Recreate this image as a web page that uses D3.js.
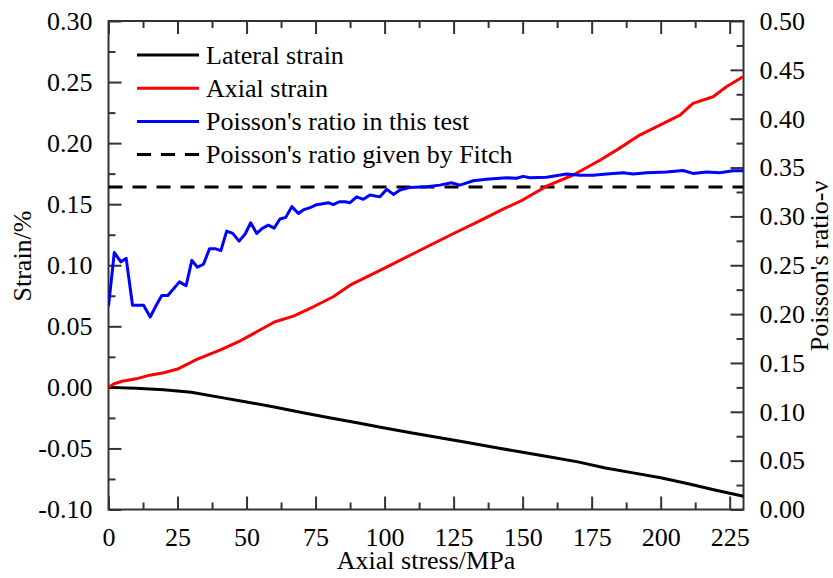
<!DOCTYPE html>
<html>
<head>
<meta charset="utf-8">
<script src="https://cdn.jsdelivr.net/npm/d3@7"></script>
<style>
  html, body { margin: 0; padding: 0; background: #fff; }
</style>
</head>
<body>
<svg id="chart" width="833" height="578" font-family="Liberation Serif, Times New Roman, serif"></svg>
<script>
// Strain curves (left axis, %) against axial stress (MPa)
const axialStress = [0, 2, 5, 10, 15, 20, 25, 32, 41, 47.7, 53.7, 60.3, 67, 74.2, 81.4, 87.5, 100, 110, 117, 125, 135, 142, 150, 158.7, 168.3, 178, 185, 192.4, 199.7, 207, 211.7, 219, 223.8, 229.8];
const axialStrain = [0, 0.003, 0.005, 0.007, 0.010, 0.012, 0.015, 0.0229, 0.0311, 0.0381, 0.0455, 0.0537, 0.0583, 0.066, 0.0742, 0.0837, 0.0977, 0.109, 0.117, 0.126, 0.137, 0.145, 0.1534, 0.1648, 0.1739, 0.186, 0.1957, 0.2066, 0.2148, 0.223, 0.2326, 0.238, 0.2462, 0.2544];

const lateralStress = [0, 10, 20, 30, 40, 50, 60, 70, 80, 90, 100, 110, 120, 130, 140, 150, 160, 170, 180, 190, 200, 210, 220, 230];
const lateralStrain = [0, -0.0008, -0.002, -0.004, -0.008, -0.012, -0.016, -0.0205, -0.0248, -0.029, -0.0333, -0.0373, -0.0413, -0.0452, -0.0492, -0.0532, -0.057, -0.061, -0.066, -0.070, -0.074, -0.0789, -0.0842, -0.0891];

// Poisson's ratio (right axis)
const ratioStress = [0, 2.1, 4.5, 6.4, 8.7, 12.7, 15.1, 17.3, 19.3, 21.5, 25.7, 28.1, 30.2, 32.2, 34.4, 36.6, 38.6, 40.7, 42.8, 45, 47.3, 49.5, 51.5, 53.7, 55.7, 57.9, 60, 62.1, 64.2, 66.4, 68.8, 70.8, 73, 75.4, 77.6, 79.6, 81.4, 83.6, 85.7, 87.5, 89.9, 92.3, 94.7, 98.3, 100.8, 103.2, 105.6, 109.2, 115.2, 120, 124.2, 127.3, 132.1, 136.9, 144.2, 147.8, 150.2, 152.6, 158.7, 165.9, 170.7, 175.5, 180.4, 186.4, 190, 194.9, 202.1, 208.1, 211.7, 216.6, 221.4, 226.2, 230];
const ratioTest = [0.208, 0.263, 0.2535, 0.257, 0.209, 0.209, 0.197, 0.209, 0.219, 0.219, 0.233, 0.229, 0.255, 0.248, 0.251, 0.267, 0.267, 0.265, 0.285, 0.2826, 0.2747, 0.282, 0.2935, 0.2826, 0.2877, 0.291, 0.288, 0.2973, 0.299, 0.310, 0.303, 0.307, 0.309, 0.312, 0.313, 0.314, 0.312, 0.315, 0.315, 0.314, 0.320, 0.3175, 0.322, 0.320, 0.3277, 0.3225, 0.327, 0.3297, 0.3303, 0.332, 0.3344, 0.332, 0.3365, 0.338, 0.3395, 0.339, 0.341, 0.3395, 0.340, 0.3433, 0.342, 0.342, 0.3433, 0.3447, 0.3433, 0.3447, 0.3454, 0.347, 0.344, 0.3454, 0.3447, 0.3467, 0.3467];
const ratioFitch = 0.33;

// Axis ranges and tick values
const xDomain = [0, 230];
const xTicks = [0, 25, 50, 75, 100, 125, 150, 175, 200, 225];
const xMinor = [12.5, 37.5, 62.5, 87.5, 112.5, 137.5, 162.5, 187.5, 212.5];
const leftDomain = [-0.10, 0.30];
const leftTicks = [-0.10, -0.05, 0.00, 0.05, 0.10, 0.15, 0.20, 0.25, 0.30];
const leftMinor = [-0.075, -0.025, 0.025, 0.075, 0.125, 0.175, 0.225, 0.275];
const rightDomain = [0, 0.50];
const rightTicks = [0, 0.05, 0.10, 0.15, 0.20, 0.25, 0.30, 0.35, 0.40, 0.45, 0.50];
const rightMinor = [0.025, 0.075, 0.125, 0.175, 0.225, 0.275, 0.325, 0.375, 0.425, 0.475];

const legendItems = [
  { label: "Lateral strain", color: "#000000", dash: null },
  { label: "Axial strain", color: "#ff0000", dash: null },
  { label: "Poisson's ratio in this test", color: "#0000ff", dash: null },
  { label: "Poisson's ratio given by Fitch", color: "#000000", dash: "14,10" }
];

const plot = { left: 108.5, right: 743.5, top: 21, bottom: 509.5 };
const fontSize = 26;
const serif = "Liberation Serif, Times New Roman, serif";
const axisColor = "#333";

const svg = d3.select("#chart");

const x = d3.scaleLinear().domain(xDomain).range([plot.left, plot.right]);
const yL = d3.scaleLinear().domain(leftDomain).range([plot.bottom, plot.top]);
const yR = d3.scaleLinear().domain(rightDomain).range([plot.bottom, plot.top]);

function styleAxis(g) {
  g.attr("font-family", serif).attr("font-size", fontSize);
  g.select(".domain").remove();
  g.selectAll(".tick line").attr("stroke", axisColor).attr("stroke-width", 2);
  g.selectAll(".tick text").attr("fill", "#000");
}

// Bottom axis
svg.append("g").attr("transform", `translate(0,${plot.bottom})`)
  .call(d3.axisBottom(x).tickValues(xTicks).tickFormat(d3.format("d"))
    .tickSizeInner(-13).tickSizeOuter(0).tickPadding(18))
  .call(styleAxis);
svg.append("g").attr("transform", `translate(0,${plot.bottom})`)
  .call(d3.axisBottom(x).tickValues(xMinor).tickFormat("").tickSizeInner(-7).tickSizeOuter(0))
  .call(styleAxis);

// Top axis (ticks only)
svg.append("g").attr("transform", `translate(0,${plot.top})`)
  .call(d3.axisTop(x).tickValues(xTicks).tickFormat("").tickSizeInner(-13).tickSizeOuter(0))
  .call(styleAxis);
svg.append("g").attr("transform", `translate(0,${plot.top})`)
  .call(d3.axisTop(x).tickValues(xMinor).tickFormat("").tickSizeInner(-7).tickSizeOuter(0))
  .call(styleAxis);

// Left axis: strain
svg.append("g").attr("transform", `translate(${plot.left},0)`)
  .call(d3.axisLeft(yL).tickValues(leftTicks).tickFormat(d => d.toFixed(2))
    .tickSizeInner(-13).tickSizeOuter(0).tickPadding(16))
  .call(styleAxis);
svg.append("g").attr("transform", `translate(${plot.left},0)`)
  .call(d3.axisLeft(yL).tickValues(leftMinor).tickFormat("").tickSizeInner(-7).tickSizeOuter(0))
  .call(styleAxis);

// Right axis: Poisson's ratio
svg.append("g").attr("transform", `translate(${plot.right},0)`)
  .call(d3.axisRight(yR).tickValues(rightTicks).tickFormat(d => d.toFixed(2))
    .tickSizeInner(-13).tickSizeOuter(0).tickPadding(16))
  .call(styleAxis);
svg.append("g").attr("transform", `translate(${plot.right},0)`)
  .call(d3.axisRight(yR).tickValues(rightMinor).tickFormat("").tickSizeInner(-7).tickSizeOuter(0))
  .call(styleAxis);

// Frame
svg.append("rect")
  .attr("x", plot.left).attr("y", plot.top)
  .attr("width", plot.right - plot.left).attr("height", plot.bottom - plot.top)
  .attr("fill", "none").attr("stroke", axisColor).attr("stroke-width", 2);

// Series, clipped to the plot box
svg.append("clipPath").attr("id", "plot-clip")
  .append("rect").attr("x", plot.left).attr("y", plot.top)
  .attr("width", plot.right - plot.left).attr("height", plot.bottom - plot.top);
const g = svg.append("g").attr("clip-path", "url(#plot-clip)");

const lineL = d3.line().x(d => x(d[0])).y(d => yL(d[1]));
const lineR = d3.line().x(d => x(d[0])).y(d => yR(d[1]));

g.append("path")
  .datum(xDomain.map(v => [v, ratioFitch]))
  .attr("d", lineR).attr("fill", "none")
  .attr("stroke", "#000").attr("stroke-width", 3).attr("stroke-dasharray", "14,10");

g.append("path")
  .datum(lateralStress.map((s, i) => [s, lateralStrain[i]]))
  .attr("d", lineL).attr("fill", "none").attr("stroke", "#000")
  .attr("stroke-width", 3).attr("stroke-linejoin", "round");

g.append("path")
  .datum(axialStress.map((s, i) => [s, axialStrain[i]]))
  .attr("d", lineL).attr("fill", "none").attr("stroke", "#ff0000")
  .attr("stroke-width", 3).attr("stroke-linejoin", "round");

g.append("path")
  .datum(ratioStress.map((s, i) => [s, ratioTest[i]]))
  .attr("d", lineR).attr("fill", "none").attr("stroke", "#0000ff")
  .attr("stroke-width", 3).attr("stroke-linejoin", "round");

// Legend
const legend = svg.append("g").attr("font-family", serif).attr("font-size", fontSize);
legendItems.forEach((item, i) => {
  const ly = 55 + i * 33.2;
  legend.append("line")
    .attr("x1", 137).attr("x2", 199).attr("y1", ly).attr("y2", ly)
    .attr("stroke", item.color).attr("stroke-width", 3)
    .attr("stroke-dasharray", item.dash);
  legend.append("text")
    .attr("x", 206).attr("y", ly).attr("dy", "0.34em")
    .text(item.label);
});

// Axis titles
const titles = svg.append("g").attr("font-family", serif).attr("font-size", fontSize);
titles.append("text")
  .attr("x", (plot.left + plot.right) / 2).attr("y", 569)
  .attr("text-anchor", "middle")
  .text("Axial stress/MPa");

titles.append("text")
  .attr("transform", `translate(31,256) rotate(-90)`)
  .attr("text-anchor", "middle")
  .text("Strain/%");

titles.append("text")
  .attr("transform", `translate(828,266) rotate(-90)`)
  .attr("text-anchor", "middle")
  .text("Poisson's ratio-ν");
</script>
</body>
</html>
